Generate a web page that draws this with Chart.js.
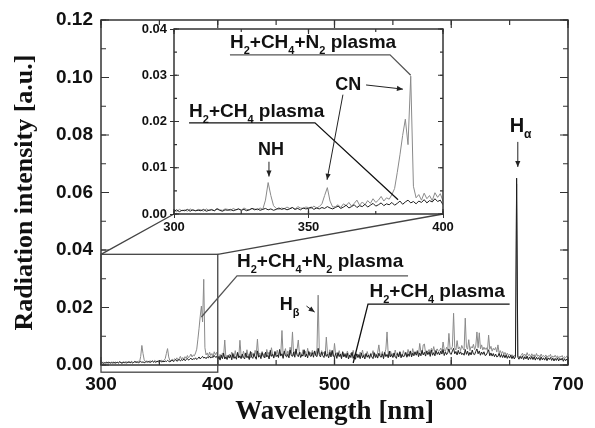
<!DOCTYPE html>
<html>
<head>
<meta charset="utf-8">
<script src="https://cdn.jsdelivr.net/npm/chart.js@4.4.0/dist/chart.umd.min.js"></script>
<style>
  body { margin: 0; background: #fff; }
  #wrap { position: relative; width: 595px; height: 428px; }
  #wrap canvas { position: absolute; }
</style>
</head>
<body>
<div id="wrap">
  <canvas id="main" width="595" height="428" style="left:0;top:0"></canvas>
  <canvas id="inset" width="330" height="232" style="left:130px;top:14px"></canvas>
</div>
<script>
// spectra sampled every nm from 300 to 700 nm, intensity in 1e-4 a.u.
const WL_START = 300;
const WL_STEP = 1;

const h2ch4n2Plasma = [
  8,5,10,7,9,6,11,8,7,10,  9,6,11,8,10,7,12,9,8,11,
  10,7,12,9,11,8,13,10,9,12,  11,9,13,10,30,68,40,18,12,10,
  13,11,15,12,14,10,16,13,12,15,  14,12,17,13,16,22,40,57,28,15,
  16,20,14,22,18,25,17,23,30,19,  26,20,29,23,33,25,30,38,28,35,
  32,42,55,90,128,170,205,150,298,60,  35,42,30,45,33,40,29,46,36,44,
  28,20,37,25,42,30,87,23,34,26,  38,27,45,31,24,50,29,40,26,86,
  32,25,48,35,28,53,30,39,24,45,  34,27,51,36,90,30,42,28,47,33,
  40,26,54,35,45,31,60,37,29,48,  36,52,30,46,38,120,34,43,57,31,
  49,35,62,40,115,33,47,38,56,87,  36,44,30,53,39,48,32,58,37,45,
  34,51,39,47,32,56,243,42,35,50,  38,45,32,97,40,36,53,34,48,30,
  75,37,43,32,50,35,28,46,33,41,  30,48,36,27,42,34,51,29,40,32,
  38,26,45,33,52,29,37,31,47,34,  28,42,35,50,31,39,27,45,70,36,
  33,47,29,41,55,115,38,30,48,34,  40,28,52,35,43,31,46,37,29,50,
  36,45,32,54,40,48,34,57,38,47,  42,52,37,75,45,39,70,73,41,50,
  46,54,40,58,48,64,43,51,56,47,  50,59,45,80,53,48,62,51,110,57,
  54,65,180,60,52,85,56,63,50,68,  58,52,163,61,55,88,50,64,59,72,
  53,66,115,60,112,56,70,52,62,54,  60,50,104,55,65,48,58,52,61,45,
  70,42,50,39,47,37,44,35,41,33,  38,31,36,29,34,27,630,32,26,30,
  34,41,32,38,30,43,33,37,29,39,  31,36,28,40,30,34,27,38,29,33,
  28,35,26,32,30,37,25,31,27,34,  26,32,24,30,28,33,23,29,25,31,
  27
];

const h2ch4Plasma = [
  6,9,5,8,7,10,6,9,7,8,  7,10,6,8,9,7,11,8,6,9,
  8,10,7,9,11,8,10,7,9,12,  9,11,8,10,12,9,11,8,10,13,
  10,12,9,11,14,10,12,9,13,11,  12,15,10,13,11,14,12,16,13,11,
  14,17,12,15,19,13,16,20,14,18,  16,21,15,19,23,17,20,24,18,22,
  20,25,19,23,28,21,26,30,24,27,  22,28,25,31,24,29,26,33,27,30,
  20,30,17,34,22,41,21,28,19,33,  24,35,18,40,23,29,20,44,25,32,
  22,38,27,21,42,25,31,19,47,28,  23,40,29,20,49,27,33,22,43,30,
  25,45,28,34,21,51,30,37,24,46,  29,35,26,54,31,39,23,48,32,28,
  37,25,52,33,30,45,27,56,34,29,  44,26,36,31,53,28,38,25,47,32,
  30,43,27,49,33,29,58,36,28,45,  32,26,48,30,37,25,44,28,51,31,
  27,40,23,43,29,38,22,46,28,37,  25,41,21,35,26,44,23,34,20,39,
  26,36,22,42,25,33,21,40,27,35,  23,38,28,22,43,26,36,24,41,30,
  27,39,22,44,29,37,25,48,28,36,  26,42,30,23,40,28,46,25,37,29,
  31,43,27,39,30,49,28,41,32,45,  34,47,29,42,32,51,35,44,31,48,
  36,46,30,52,34,43,32,50,37,45,  35,48,38,54,33,46,36,43,56,40,
  37,49,58,39,47,35,51,38,46,36,  41,34,54,37,48,33,44,35,52,38,
  36,47,56,39,49,34,45,37,46,33,  35,44,53,32,42,31,40,29,38,28,
  30,41,27,37,26,36,25,35,23,32,  24,34,22,31,21,29,650,28,20,30,
  22,32,19,29,21,31,18,28,20,30,  19,29,17,27,20,26,16,28,18,25,
  17,27,15,25,19,26,16,24,14,23,  16,25,14,23,17,24,13,22,15,21,
  16
];

// annotations, placed in data units (nm, a.u.)
const mainLabels = [
  { text: 'H_2+CH_4+N_2 plasma', x: 416.5, y: 0.034, size: 19 },
  { text: 'H_2+CH_4 plasma', x: 530, y: 0.0237, size: 19 },
  { text: 'H_β', x: 453, y: 0.019, size: 18 },
  { text: 'H_α', x: 650, y: 0.081, size: 20 }
];
const mainLeaders = [
  { pts: [[386, 0.0167], [416.5, 0.031], [563, 0.031]], color: '#555' },
  { pts: [[516, 0.0007], [528.7, 0.0212], [650, 0.0212]], color: '#111' }
];
const mainArrows = [
  { from: [476, 0.0205], to: [483, 0.0184] },
  { from: [657, 0.0776], to: [657, 0.0689] }
];
const zoomBox = { x0: 300, x1: 400, y0: -0.0025, y1: 0.0385 };

const insetLabels = [
  { text: 'H_2+CH_4+N_2 plasma', x: 320.8, y: 0.0358, size: 19 },
  { text: 'CN', x: 359.9, y: 0.0268, size: 18 },
  { text: 'H_2+CH_4 plasma', x: 305.6, y: 0.0210, size: 19 },
  { text: 'NH', x: 331.2, y: 0.0128, size: 18 }
];
const insetLeaders = [
  { pts: [[320.8, 0.0344], [380.3, 0.0344], [388, 0.0300]], color: '#555' },
  { pts: [[305.6, 0.0197], [352.4, 0.0197], [383.3, 0.0031]], color: '#111' }
];
const insetArrows = [
  { from: [371.4, 0.0279], to: [385.1, 0.0270] },
  { from: [362.8, 0.0258], to: [356.9, 0.0074] },
  { from: [335.3, 0.0113], to: [335.3, 0.0081] }
];

const SANS = '"Liberation Sans", Arial, sans-serif';
const SERIF = '"Liberation Serif", "Times New Roman", serif';

const toPoints = vals => vals.map((v, i) => ({ x: WL_START + i * WL_STEP, y: v * 1e-4 }));

// text with "_x" meaning subscript x
function drawRich(ctx, text, x, y, size) {
  let cx = x;
  for (let i = 0; i < text.length; i++) {
    let ch = text[i], sub = false;
    if (ch === '_') { sub = true; ch = text[++i]; }
    ctx.font = 'bold ' + (sub ? Math.round(size * 0.6) : size) + 'px ' + SANS;
    ctx.fillText(ch, cx, sub ? y + size * 0.3 : y);
    cx += ctx.measureText(ch).width;
  }
}

function arrow(ctx, x1, y1, x2, y2) {
  ctx.beginPath(); ctx.moveTo(x1, y1); ctx.lineTo(x2, y2); ctx.stroke();
  const a = Math.atan2(y2 - y1, x2 - x1), L = 6, W = 2.6;
  ctx.beginPath();
  ctx.moveTo(x2, y2);
  ctx.lineTo(x2 - L * Math.cos(a) + W * Math.sin(a), y2 - L * Math.sin(a) - W * Math.cos(a));
  ctx.lineTo(x2 - L * Math.cos(a) - W * Math.sin(a), y2 - L * Math.sin(a) + W * Math.cos(a));
  ctx.closePath(); ctx.fill();
}

// frame plus inward tick marks on all four sides
function frameTicks(t) {
  return {
    id: 'frameTicks',
    afterDatasetsDraw(chart) {
      const { ctx, chartArea: a, scales: { x, y } } = chart;
      ctx.save();
      ctx.strokeStyle = '#333';
      ctx.lineWidth = 1.2;
      const marks = (scale, step, len, horiz) => {
        const n = Math.round((scale.max - scale.min) / step);
        for (let k = 0; k <= n; k++) {
          const p = scale.getPixelForValue(scale.min + k * step);
          ctx.beginPath();
          if (horiz) {
            ctx.moveTo(p, a.bottom); ctx.lineTo(p, a.bottom - len);
            ctx.moveTo(p, a.top); ctx.lineTo(p, a.top + len);
          } else {
            ctx.moveTo(a.left, p); ctx.lineTo(a.left + len, p);
            ctx.moveTo(a.right, p); ctx.lineTo(a.right - len, p);
          }
          ctx.stroke();
        }
      };
      marks(x, t.xMinor, t.minor, true);
      marks(x, t.xMajor, t.major, true);
      marks(y, t.yMinor, t.minor, false);
      marks(y, t.yMajor, t.major, false);
      ctx.lineWidth = 1.5;
      ctx.strokeRect(a.left, a.top, a.right - a.left, a.bottom - a.top);
      ctx.restore();
    }
  };
}

function notes(spec) {
  return {
    id: 'notes',
    afterDraw(chart) {
      const { ctx, scales: { x, y } } = chart;
      const px = p => [x.getPixelForValue(p[0]), y.getPixelForValue(p[1])];
      ctx.save();
      ctx.lineWidth = 1.3;
      if (spec.box) {
        const b = spec.box;
        const [l, t] = px([b.x0, b.y1]);
        const [r, btm] = px([b.x1, b.y0]);
        ctx.strokeStyle = '#444';
        ctx.strokeRect(l, t, r - l, btm - t);
        const c = spec.corners();
        ctx.beginPath();
        ctx.moveTo(l, t); ctx.lineTo(c[0][0], c[0][1]);
        ctx.moveTo(r, t); ctx.lineTo(c[1][0], c[1][1]);
        ctx.stroke();
      }
      spec.leaders.forEach(ld => {
        ctx.strokeStyle = ld.color;
        ctx.beginPath();
        ld.pts.forEach((p, i) => { const q = px(p); i ? ctx.lineTo(q[0], q[1]) : ctx.moveTo(q[0], q[1]); });
        ctx.stroke();
      });
      ctx.strokeStyle = '#222';
      ctx.fillStyle = '#222';
      ctx.lineWidth = 1;
      spec.arrows.forEach(ar => {
        const f = px(ar.from), t = px(ar.to);
        arrow(ctx, f[0], f[1], t[0], t[1]);
      });
      ctx.fillStyle = '#111';
      ctx.textBaseline = 'alphabetic';
      spec.labels.forEach(lb => {
        const q = px([lb.x, lb.y]);
        drawRich(ctx, lb.text, q[0], q[1], lb.size);
      });
      ctx.restore();
    }
  };
}

const baseOpts = {
  responsive: false,
  animation: false,
  events: [],
  elements: { point: { radius: 0 }, line: { tension: 0 } },
  plugins: { legend: { display: false }, tooltip: { enabled: false } }
};

const insetCanvas = document.getElementById('inset');
const insetChart = new Chart(insetCanvas, {
  type: 'line',
  data: {
    datasets: [
      { label: 'H2+CH4 plasma', data: toPoints(h2ch4Plasma).slice(0, 101), borderColor: '#1e1e1e', borderWidth: 1 },
      { label: 'H2+CH4+N2 plasma', data: toPoints(h2ch4n2Plasma).slice(0, 101), borderColor: '#8a8a8a', borderWidth: 1 }
    ]
  },
  options: Object.assign({}, baseOpts, {
    layout: { padding: { left: 0, right: 17, top: 15, bottom: 0 } },
    scales: {
      x: {
        type: 'linear', min: 300, max: 400,
        afterFit: s => { s.height = 32; },
        grid: { display: true, drawOnChartArea: false, drawTicks: true, tickLength: 4, color: '#333' },
        border: { display: false },
        ticks: { stepSize: 50, padding: 2, maxRotation: 0, color: '#111', font: { family: SANS, size: 13, weight: 'bold' } }
      },
      y: {
        min: 0, max: 0.04,
        afterFit: s => { s.width = 44; },
        grid: { display: true, drawOnChartArea: false, drawTicks: true, tickLength: 4, color: '#333' },
        border: { display: false },
        ticks: { stepSize: 0.01, padding: 3, color: '#111', font: { family: SANS, size: 13, weight: 'bold' },
                 callback: v => v.toFixed(2) }
      }
    }
  }),
  plugins: [
    frameTicks({ xMajor: 50, xMinor: 25, yMajor: 0.01, yMinor: 0.005, major: 5, minor: 3 }),
    notes({ labels: insetLabels, leaders: insetLeaders, arrows: insetArrows })
  ]
});

new Chart(document.getElementById('main'), {
  type: 'line',
  data: {
    datasets: [
      { label: 'H2+CH4 plasma', data: toPoints(h2ch4Plasma), borderColor: '#1e1e1e', borderWidth: 1 },
      { label: 'H2+CH4+N2 plasma', data: toPoints(h2ch4n2Plasma), borderColor: '#8a8a8a', borderWidth: 1 }
    ]
  },
  options: Object.assign({}, baseOpts, {
    layout: { padding: { left: 10, right: 27, top: 20, bottom: 0 } },
    scales: {
      x: {
        type: 'linear', min: 300, max: 700,
        afterFit: s => { s.height = 63; },
        grid: { display: false, drawTicks: false },
        border: { display: false },
        ticks: { stepSize: 100, padding: 8, maxRotation: 0, color: '#111', font: { family: SANS, size: 19, weight: 'bold' } },
        title: { display: true, text: 'Wavelength [nm]', color: '#111', padding: 0,
                 font: { family: SERIF, size: 27, weight: 'bold' } }
      },
      y: {
        min: 0, max: 0.12,
        afterFit: s => { s.width = 91; },
        grid: { display: false, drawTicks: false },
        border: { display: false },
        ticks: { stepSize: 0.02, padding: 8, color: '#111', font: { family: SANS, size: 19, weight: 'bold' },
                 callback: v => v.toFixed(2) },
        title: { display: true, text: 'Radiation intensity [a.u.]', color: '#111', padding: 0,
                 font: { family: SERIF, size: 26, weight: 'bold' } }
      }
    }
  }),
  plugins: [
    frameTicks({ xMajor: 100, xMinor: 50, yMajor: 0.02, yMinor: 0.01, major: 8, minor: 5 }),
    notes({
      labels: mainLabels, leaders: mainLeaders, arrows: mainArrows, box: zoomBox,
      corners: () => {
        const a = insetChart.chartArea;
        const ox = insetCanvas.offsetLeft, oy = insetCanvas.offsetTop;
        return [[ox + a.left, oy + a.bottom], [ox + a.right, oy + a.bottom]];
      }
    })
  ]
});
</script>
</body>
</html>
